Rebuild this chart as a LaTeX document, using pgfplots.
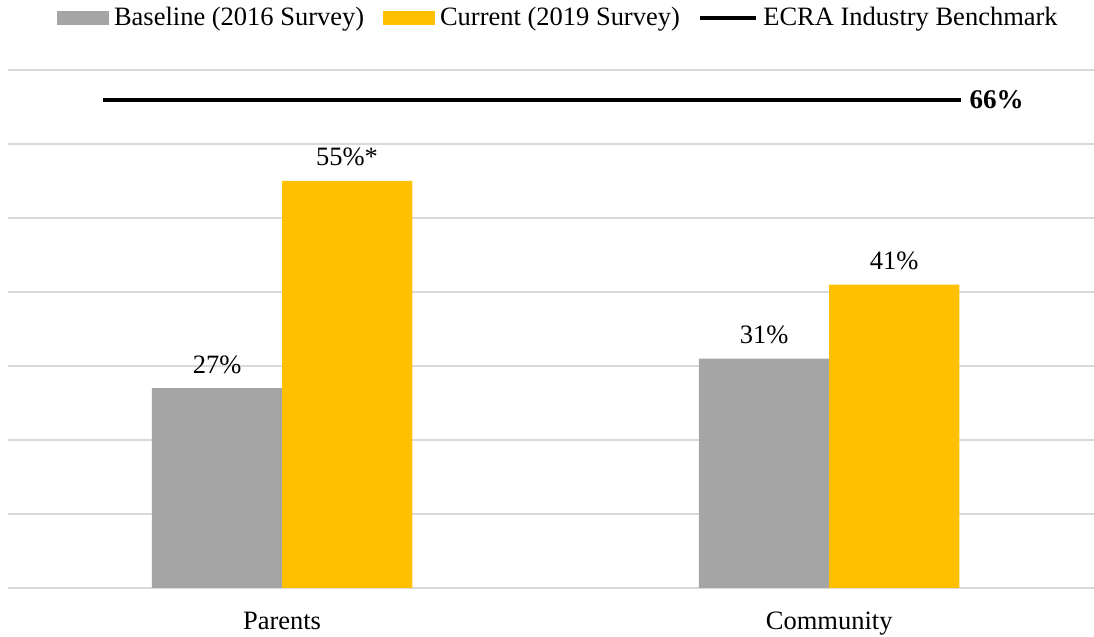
\documentclass[border=0pt]{standalone}
\usepackage{fontspec}
\setmainfont{Liberation Serif}
\usepackage{pgfplots}
\pgfplotsset{compat=1.18}
\definecolor{basegray}{HTML}{A5A5A5}
\definecolor{curgold}{HTML}{FFC000}
\definecolor{gridgray}{HTML}{D9D9D9}

\begin{document}
\begin{tikzpicture}[x=1pt,y=1pt]
\begin{axis}[
    name=ax,
    scale only axis,
    width=409.7pt, height=195.5pt,
    xmin=-0.5, xmax=1.484,
    ymin=0, ymax=70,
    xtick={0,1},
    xticklabels={Parents, Community},
    ytick={0,10,...,70},
    yticklabels={},
    ymajorgrids,
    grid style={gridgray, line width=0.75pt},
    axis line style={draw=none},
    tick style={draw=none},
    tick label style={font=\fontsize{10}{12}\selectfont},
    xticklabel style={yshift=-5.5pt},
    clip=false,
    legend style={at={(0.508,1.1)}, anchor=center, draw=none, fill=none,
        legend columns=3, font=\fontsize{10}{12}\selectfont,
        /tikz/every even column/.append style={column sep=5pt}},
    legend cell align=left,
]
\addplot[ybar, bar width=0.238, bar shift=-0.119, fill=basegray, draw=none,
    area legend,
    nodes near coords, point meta=explicit symbolic,
    nodes near coords style={font=\fontsize{10}{12}\selectfont, yshift=2pt, xshift=-24.5pt},
    legend image code/.code={\fill[basegray] (0pt,-2.65pt) rectangle (19.6pt,2.65pt);}]
    coordinates {(0,27) [27\%] (1,31) [31\%]};
\addlegendentry{Baseline (2016 Survey)}
\addplot[ybar, bar width=0.238, bar shift=0.119, fill=curgold, draw=none,
    area legend,
    nodes near coords, point meta=explicit symbolic,
    nodes near coords style={font=\fontsize{10}{12}\selectfont, yshift=2pt, xshift=24.5pt},
    legend image code/.code={\fill[curgold] (0pt,-2.65pt) rectangle (19.6pt,2.65pt);}]
    coordinates {(0,55) [55\%*] (1,41) [41\%]};
\addlegendentry{Current (2019 Survey)}
\addplot[black, line width=1.5pt, mark=none,
    legend image code/.code={\draw[black, line width=1.5pt] (0pt,0pt) -- (21pt,0pt);}]
    coordinates {(-0.327,66) (1.241,66)};
\addlegendentry{ECRA Industry Benchmark}
\node[anchor=west, font=\fontsize{10.2}{12}\selectfont\bfseries, inner sep=0pt, xshift=3pt]
    at (axis cs:1.241,66) {66\%};
\end{axis}
\pgfresetboundingbox
\path (ax.south west) ++(-3.2pt,-18.5pt) coordinate (bbl);
\path (ax.north east) ++(0pt,26.4pt) coordinate (btr);
\path[use as bounding box] (bbl) rectangle (btr);
\end{tikzpicture}
\end{document}
